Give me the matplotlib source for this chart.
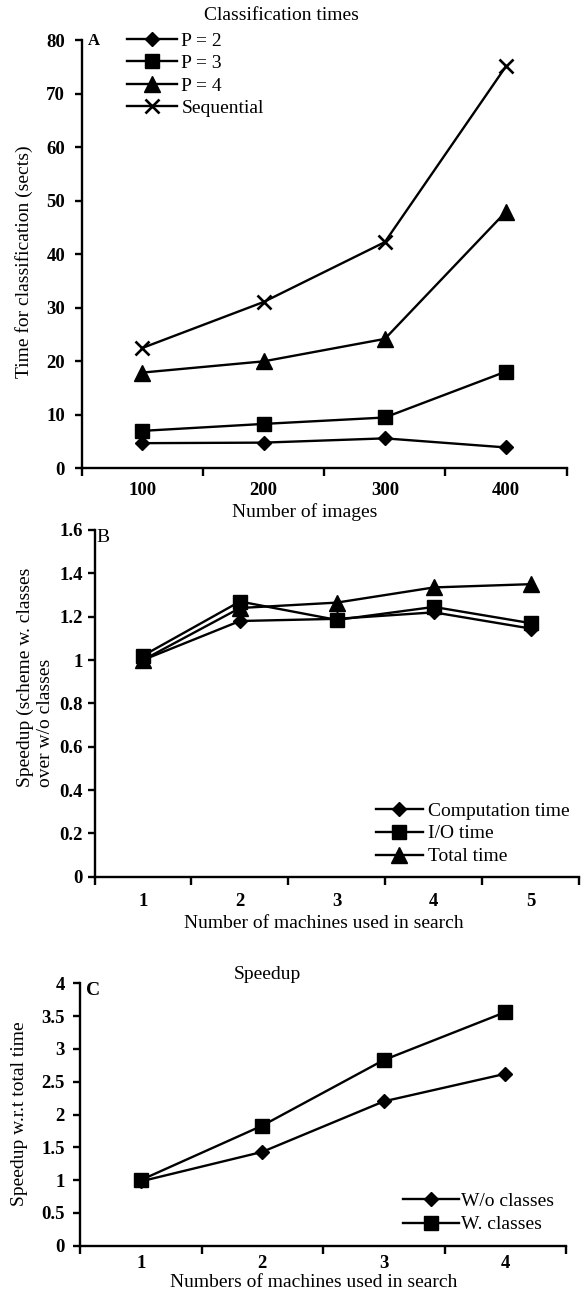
import numpy as np
import matplotlib
matplotlib.use("Agg")
import matplotlib.pyplot as plt

# ---------------- data ----------------
a_categories = ["100", "200", "300", "400"]
a_p2 = [4.7, 4.8, 5.6, 3.9]
a_p3 = [7.0, 8.3, 9.5, 18.1]
a_p4 = [17.9, 20.0, 24.2, 48.0]
a_seq = [22.5, 31.1, 42.3, 75.2]
a_yticks = [0, 10, 20, 30, 40, 50, 60, 70, 80]

b_categories = ["1", "2", "3", "4", "5"]
b_comp = [1.0, 1.18, 1.19, 1.22, 1.145]
b_io = [1.02, 1.27, 1.185, 1.245, 1.17]
b_total = [1.0, 1.24, 1.265, 1.335, 1.35]
b_yticks = [0, 0.2, 0.4, 0.6, 0.8, 1.0, 1.2, 1.4, 1.6]
b_yticklabels = ["0", "0.2", "0.4", "0.6", "0.8", "1", "1.2", "1.4", "1.6"]

c_categories = ["1", "2", "3", "4"]
c_wo = [0.98, 1.43, 2.2, 2.62]
c_w = [1.0, 1.83, 2.83, 3.56]
c_yticks = [0, 0.5, 1, 1.5, 2, 2.5, 3, 3.5, 4]
c_yticklabels = ["0", "0.5", "1", "1.5", "2", "2.5", "3", "3.5", "4"]

# ---------------- style ----------------
plt.rcParams["font.family"] = ["Liberation Serif", "DejaVu Serif"]
W, H = 584, 1291
fig = plt.figure(figsize=(W / 100, H / 100), dpi=100)

LW = 1.7
FS = 14
TFS = 13.5


def fx(px):
    return px / W


def fy(py):
    return 1 - py / H


def make_axes(l, r, t, b):
    return fig.add_axes([fx(l), fy(b), fx(r) - fx(l), fy(t) - fy(b)])


def style_axes(ax, cats, yticks, yticklabels, ymax, xpad, ypad):
    n = len(cats)
    ax.set_xlim(-0.5, n - 0.5)
    ax.set_ylim(0, ymax)
    for s in ["top", "right"]:
        ax.spines[s].set_visible(False)
    for s in ["left", "bottom"]:
        ax.spines[s].set_linewidth(1.7)
    ax.set_xticks(np.arange(n + 1) - 0.5)
    ax.set_xticklabels([""] * (n + 1))
    ax.set_xticks(np.arange(n), minor=True)
    ax.set_xticklabels(cats, minor=True, fontsize=TFS, fontweight="bold")
    ax.tick_params(axis="x", which="major", direction="out", length=6, width=1.7)
    ax.tick_params(axis="x", which="minor", length=0, pad=xpad)
    ax.set_yticks(yticks)
    ax.set_yticklabels(yticklabels, fontsize=TFS, fontweight="bold")
    ax.tick_params(axis="y", direction="out", length=5, width=1.7, pad=ypad)


mk = dict(color="black", lw=LW, clip_on=False)
leg_kw = dict(bbox_transform=fig.transFigure, loc="upper left", frameon=False,
              fontsize=FS, borderpad=0, borderaxespad=0, numpoints=1)

# ---------------- Panel A ----------------
axA = make_axes(81.7, 566.7, 40.5, 468.3)
xa = np.arange(len(a_categories))
axA.plot(xa, a_p2, marker="D", ms=7.5, label="P = 2", **mk)
axA.plot(xa, a_p3, marker="s", ms=10, label="P = 3", **mk)
axA.plot(xa, a_p4, marker="^", ms=11, label="P = 4", **mk)
axA.plot(xa, a_seq, marker="x", ms=10, mew=1.9, label="Sequential", **mk)
style_axes(axA, a_categories, a_yticks, [str(v) for v in a_yticks], 80, 10, 7)
axA.set_xlabel("Number of images", fontsize=FS, labelpad=3, x=0.46)
fig.text(fx(24), fy(261.7), "Time for classification (sects)", rotation=90,
         ha="center", va="center", fontsize=FS)
fig.text(fx(281), fy(20), "Classification times", ha="center", va="baseline", fontsize=FS)
fig.text(fx(88), fy(45), "A", ha="left", va="baseline", fontsize=12, fontweight="bold")
axA.legend(bbox_to_anchor=(fx(127), fy(32)), handlelength=2.55, labelspacing=0.25,
           handletextpad=0.25, **leg_kw)

# ---------------- Panel B ----------------
axB = make_axes(94.5, 579.3, 530, 876.7)
xb = np.arange(len(b_categories))
axB.plot(xb, b_comp, marker="D", ms=7.5, label="Computation time", **mk)
axB.plot(xb, b_io, marker="s", ms=10, label="I/O time", **mk)
axB.plot(xb, b_total, marker="^", ms=11, label="Total time", **mk)
style_axes(axB, b_categories, b_yticks, b_yticklabels, 1.6, 12, 3.5)
axB.set_xlabel("Number of machines used in search", fontsize=FS, labelpad=3, x=0.473)
fig.text(fx(35), fy(786.7), "Speedup (scheme w. classes\nover w/o classes", rotation=90,
         ha="center", va="bottom", multialignment="left", fontsize=FS, linespacing=1.25)
fig.text(fx(96), fy(542), "B", ha="left", va="baseline", fontsize=FS)
axB.legend(bbox_to_anchor=(fx(376), fy(802)), handlelength=2.4, labelspacing=0.27,
           handletextpad=0.25, **leg_kw)

# ---------------- Panel C ----------------
axC = make_axes(80, 566, 983.3, 1245.7)
xc = np.arange(len(c_categories))
axC.plot(xc, c_wo, marker="D", ms=7.5, label="W/o classes", **mk)
axC.plot(xc, c_w, marker="s", ms=10, label="W. classes", **mk)
style_axes(axC, c_categories, c_yticks, c_yticklabels, 4, 7, 6)
axC.set_xlabel("Numbers of machines used in search", fontsize=FS, labelpad=1, x=0.481)
fig.text(fx(20), fy(1114), "Speedup w.r.t total time", rotation=90,
         ha="center", va="center", fontsize=FS)
fig.text(fx(267), fy(979), "Speedup", ha="center", va="baseline", fontsize=FS)
fig.text(fx(86), fy(995), "C", ha="left", va="baseline", fontsize=FS, fontweight="bold")
axC.legend(bbox_to_anchor=(fx(403), fy(1192)), handlelength=2.9, labelspacing=0.32,
           handletextpad=0.1, **leg_kw)

fig.savefig("out.png", dpi=100)
